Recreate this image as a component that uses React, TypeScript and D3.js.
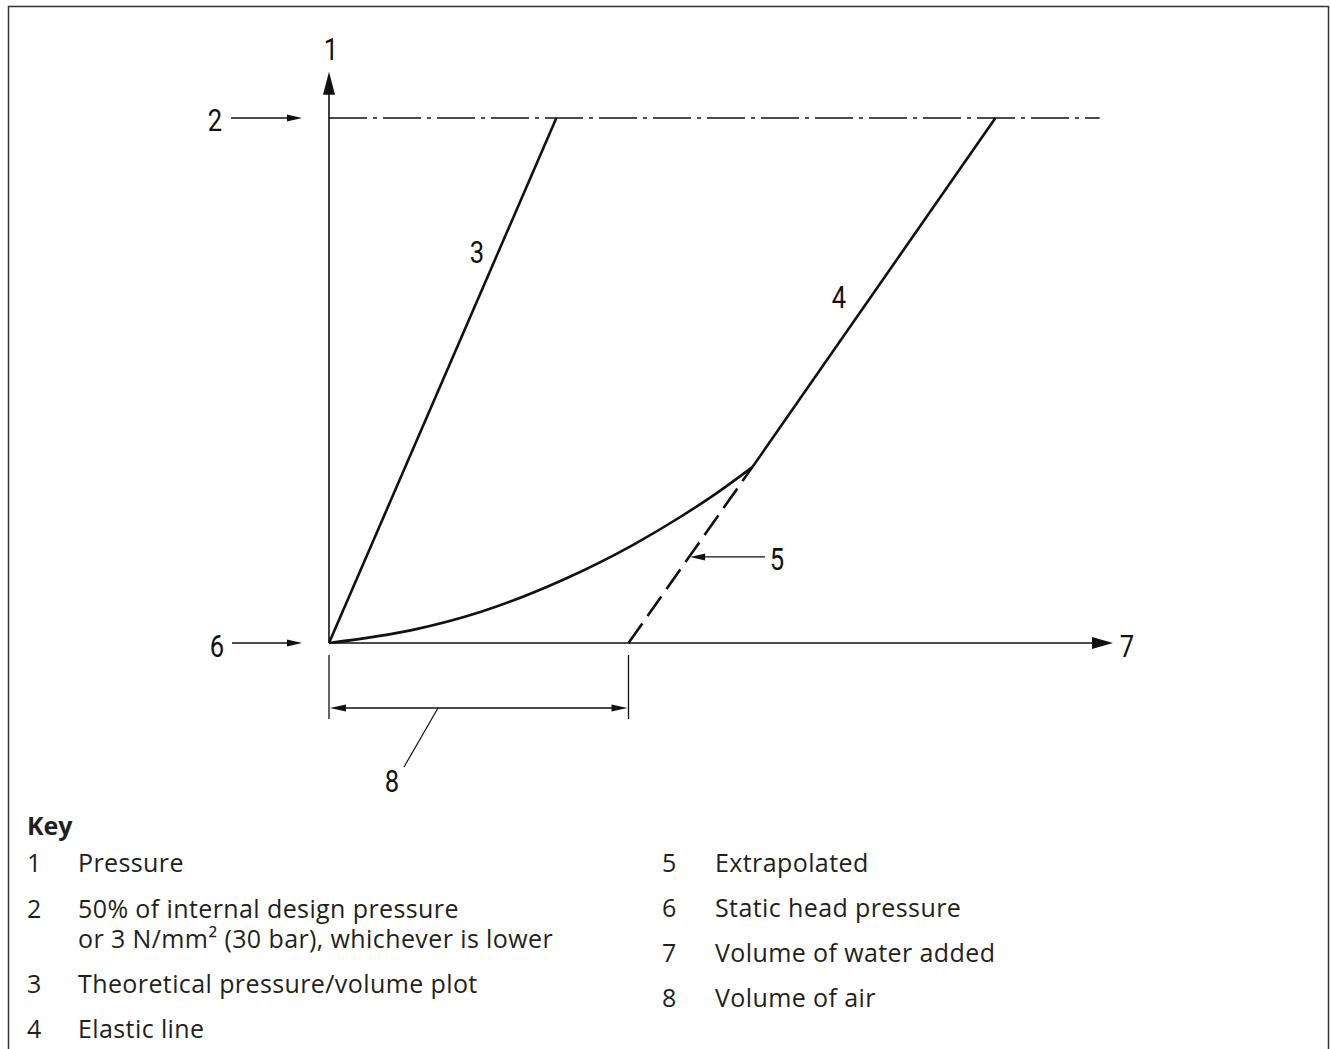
import React from "react";
import * as d3 from "d3";

// Pressure / volume test diagram values (volume and pressure in relative units)
const volumeDomain: [number, number] = [0, 100];
const pressureDomain: [number, number] = [0, 100];
const testPressure = 100; // level of line 2
const testLineEnd = 98.3; // where the dash-dot reference line stops
const pressureAxisTop = 108.8;
const volumeAxisEnd = 100;

const theoreticalLine: [number, number][] = [
  [0, 0],
  [29, 100],
];
const elasticLine: [number, number][] = [
  [54, 33.5],
  [85, 100],
];
const extrapolatedLine: [number, number][] = [
  [38.2, 0],
  [54, 33.5],
];
const measuredCurve: [number, number][] = [
  [0, 0],
  [10.7, 2.5],
  [19.3, 5.9],
  [29.8, 12.0],
  [38.8, 18.7],
  [44.8, 24.0],
  [49.5, 28.6],
  [54, 33.5],
];
const airVolume = 38.2;
const extrapolatedLabelPressure = 16.4;

const keyNumbers = ["1", "2", "3", "4", "5", "6", "7", "8"];
const keyLabels = [
  ["Pressure"],
  ["50% of internal design pressure", "or 3 N/mm² (30 bar), whichever is lower"],
  ["Theoretical pressure/volume plot"],
  ["Elastic line"],
  ["Extrapolated"],
  ["Static head pressure"],
  ["Volume of water added"],
  ["Volume of air"],
];

const W = 1331;
const H = 1049;
const INK = "#111";
const KEY_INK = "#231f20";
const LABEL_FONT = "Roboto, 'DejaVu Sans', sans-serif";
const KEY_FONT = "'Open Sans', 'Noto Sans', sans-serif";

const x = d3.scaleLinear().domain(volumeDomain).range([329, 1113]);
const y = d3.scaleLinear().domain(pressureDomain).range([643, 118]);

const line = d3
  .line<[number, number]>()
  .x((d) => x(d[0]))
  .y((d) => y(d[1]));
const smooth = d3
  .line<[number, number]>()
  .x((d) => x(d[0]))
  .y((d) => y(d[1]))
  .curve(d3.curveMonotoneX);

// filled arrowhead with its tip at (tx, ty), pointing along angle (radians)
function Arrowhead({ tx, ty, angle, len, half }: { tx: number; ty: number; angle: number; len: number; half: number }) {
  const c = Math.cos(angle);
  const s = Math.sin(angle);
  const bx = tx - c * len;
  const by = ty - s * len;
  const pts = [
    [tx, ty],
    [bx - s * half, by + c * half],
    [bx + s * half, by - c * half],
  ];
  return <polygon points={pts.map((p) => p.join(",")).join(" ")} fill={INK} />;
}

// narrow technical-lettering style item number
function Label({ px, py, text }: { px: number; py: number; text: string }) {
  return (
    <text
      transform={`translate(${px},${py}) scale(0.8,1)`}
      fontFamily={LABEL_FONT}
      fontWeight={400}
      fontSize={32}
      fill={INK}
      textAnchor="middle"
    >
      {text}
    </text>
  );
}

export default function App() {
  const x0 = x(0);
  const y0 = y(0);
  const yTest = y(testPressure);
  const xAir = x(airVolume);

  // point on the extrapolated line at the label's pressure
  const [ex0, ey0] = extrapolatedLine[0];
  const [ex1, ey1] = extrapolatedLine[1];
  const tLabel = (extrapolatedLabelPressure - ey0) / (ey1 - ey0);
  const p5x = x(ex0 + (ex1 - ex0) * tLabel);
  const p5y = y(extrapolatedLabelPressure);

  const dimY = 708;

  // baselines of the key entries; the second entry wraps onto a follow-on line
  const leftRows = [872, 918, 993, 1038];
  const wrapGap = 30;
  const rightRows = [872, 917, 962, 1007];

  return (
    <svg
      width={W}
      height={H}
      style={{ position: "absolute", left: 0, top: 0, display: "block", background: "#fff" }}
    >
      {/* frame */}
      <rect x={8.5} y={6.5} width={1320} height={1100} fill="none" stroke="#333" strokeWidth={1.5} />

      {/* axes */}
      <line x1={x0} y1={y0} x2={x0} y2={y(pressureAxisTop) + 20} stroke={INK} strokeWidth={1.6} />
      <Arrowhead tx={x0} ty={y(pressureAxisTop)} angle={-Math.PI / 2} len={23} half={6} />
      <line x1={x0} y1={y0} x2={x(volumeAxisEnd) - 18} y2={y0} stroke={INK} strokeWidth={1.6} />
      <Arrowhead tx={x(volumeAxisEnd)} ty={y0} angle={0} len={21} half={6} />

      {/* test pressure reference (dash-dot) */}
      <line
        x1={x0}
        y1={yTest}
        x2={x(testLineEnd)}
        y2={yTest}
        stroke={INK}
        strokeWidth={1.5}
        strokeDasharray="38 6 4 6"
      />

      {/* theoretical plot, elastic line, measured curve */}
      <path d={line(theoreticalLine) ?? ""} fill="none" stroke={INK} strokeWidth={2.6} />
      <path d={line(elasticLine) ?? ""} fill="none" stroke={INK} strokeWidth={2.6} />
      <path d={smooth(measuredCurve) ?? ""} fill="none" stroke={INK} strokeWidth={2.6} />
      <path
        d={line(extrapolatedLine) ?? ""}
        fill="none"
        stroke={INK}
        strokeWidth={2.6}
        strokeDasharray="24 9"
      />

      {/* callout arrows */}
      <line x1={231} y1={yTest} x2={292} y2={yTest} stroke={INK} strokeWidth={1.4} />
      <Arrowhead tx={302} ty={yTest} angle={0} len={15} half={3.5} />
      <line x1={232} y1={y0} x2={292} y2={y0} stroke={INK} strokeWidth={1.4} />
      <Arrowhead tx={302} ty={y0} angle={0} len={15} half={3.5} />
      <line x1={765} y1={p5y} x2={p5x + 10} y2={p5y} stroke={INK} strokeWidth={1.4} />
      <Arrowhead tx={p5x + 1} ty={p5y} angle={Math.PI} len={15} half={3.5} />

      {/* dimension for volume of air */}
      <line x1={x0} y1={655} x2={x0} y2={719} stroke={INK} strokeWidth={1.3} />
      <line x1={xAir} y1={655} x2={xAir} y2={719} stroke={INK} strokeWidth={1.3} />
      <line x1={x0 + 10} y1={dimY} x2={xAir - 10} y2={dimY} stroke={INK} strokeWidth={1.3} />
      <Arrowhead tx={x0 + 1} ty={dimY} angle={Math.PI} len={16} half={3.5} />
      <Arrowhead tx={xAir - 1} ty={dimY} angle={0} len={16} half={3.5} />
      <line x1={438} y1={dimY} x2={404} y2={767} stroke={INK} strokeWidth={1.2} />

      {/* item labels */}
      <Label px={331} py={60} text="1" />
      <Label px={215} py={131} text="2" />
      <Label px={477} py={263} text="3" />
      <Label px={839} py={308} text="4" />
      <Label px={777} py={570} text="5" />
      <Label px={217} py={657} text="6" />
      <Label px={1127} py={657} text="7" />
      <Label px={392} py={792} text="8" />

      {/* key */}
      <g fontFamily={KEY_FONT} fontSize={25} letterSpacing={0.4} fill={KEY_INK}>
        <text x={27} y={835} fontWeight={700} letterSpacing={0}>
          Key
        </text>
        {[0, 1, 2, 3].map((i) => (
          <g key={i}>
            <text x={27} y={leftRows[i]}>
              {keyNumbers[i]}
            </text>
            <text x={78} y={leftRows[i]}>
              {keyLabels[i].map((t, j) => (
                <tspan key={j} x={78} dy={j === 0 ? 0 : wrapGap}>
                  {t}
                </tspan>
              ))}
            </text>
          </g>
        ))}
        {[4, 5, 6, 7].map((i) => (
          <g key={i}>
            <text x={662} y={rightRows[i - 4]}>
              {keyNumbers[i]}
            </text>
            <text x={715} y={rightRows[i - 4]}>
              {keyLabels[i][0]}
            </text>
          </g>
        ))}
      </g>
    </svg>
  );
}
